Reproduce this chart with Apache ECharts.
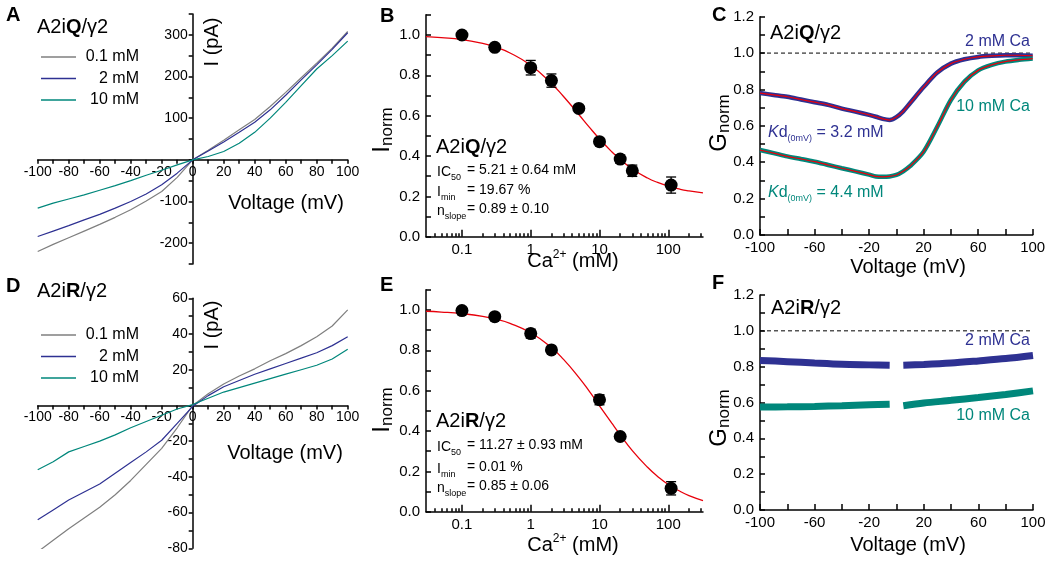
<!DOCTYPE html>
<html><head><meta charset="utf-8">
<script src="https://cdn.jsdelivr.net/npm/echarts@6/dist/echarts.min.js"></script>
<style>html,body{margin:0;padding:0;background:#fff}#c{width:1050px;height:563px}</style>
</head><body><div id="c"></div>
<script>
// ---------- data ----------
const legendNames = ['0.1 mM', '2 mM', '10 mM'];
const voltIV = [-100,-90,-80,-70,-60,-50,-40,-30,-20,-10,0,10,20,30,40,50,60,70,80,90,100];
// Panel A (A2iQ/γ2) current traces, pA
const iqGray = [-220,-203,-187,-171,-155,-138,-120,-99,-76,-42,0,23,47,72,97,128,162,197,232,268,308];
const iqBlue = [-184,-171,-158,-144,-131,-116,-100,-82,-60,-32,0,21,43,66,90,120,155,192,228,265,305];
const iqTeal = [-116,-104,-94,-84,-73,-62,-50,-37,-25,-12,0,8,20,40,66,100,138,178,218,250,285];
// Panel D (A2iR/γ2) current traces, pA
const irGray = [-82,-75.5,-69,-63,-57,-50,-42,-33,-24,-12.5,0,6.5,12,16.5,20.5,25,29,33.5,38.5,44.5,53.5];
const irBlue = [-64,-58.5,-53,-48.5,-44,-38,-32,-26,-19.5,-10,-0.5,5.5,10.5,14,17.5,20.5,23.5,26.5,29.5,33.5,38.5];
const irTeal = [-36,-31.5,-26,-23,-20,-16.5,-12.5,-9,-5.5,-2,0.5,4,7.5,10,12.5,15,17.5,20,22.5,26,31.5];
// Panel B / E dose-response points
const concQ = [0.1,0.3,1,2,5,10,20,30,110];
const inormQ = [1.0,0.939,0.838,0.774,0.636,0.471,0.385,0.327,0.256];
const errQ = [0.01,0.01,0.036,0.033,0.012,0.012,0.02,0.028,0.04];
const concR = [0.1,0.3,1,2,10,20,110];
const inormR = [0.997,0.967,0.883,0.802,0.555,0.373,0.116];
const errR = [0.008,0.008,0.022,0.01,0.025,0.01,0.033];
// fitted curves
const concFit = [0.03,0.05,0.1,0.2,0.3,0.5,1,2,3,5,7,10,15,20,30,50,70,100,150,200,320];
const fitQ = [0.992,0.987,0.977,0.958,0.941,0.911,0.850,0.760,0.695,0.606,0.546,0.485,0.422,0.383,0.336,0.291,0.269,0.251,0.235,0.227,0.217];
const fitR = [0.994,0.990,0.982,0.969,0.956,0.934,0.887,0.813,0.755,0.666,0.600,0.525,0.440,0.381,0.303,0.220,0.175,0.135,0.100,0.080,0.055];
const logLabels = [0.1,1,10,100];
const logMinor = [0.04,0.05,0.06,0.07,0.08,0.09,0.2,0.3,0.4,0.5,0.6,0.7,0.8,0.9,2,3,4,5,6,7,8,9,20,30,40,50,60,70,80,90,200,300];
// Panel C conductance
const voltC = [-100,-90,-80,-70,-60,-50,-40,-30,-20,-15,-10,-5,0,5,10,20,30,40,50,60,70,80,90,100];
const gC2 = [0.78,0.77,0.76,0.745,0.73,0.715,0.695,0.678,0.66,0.65,0.638,0.632,0.648,0.68,0.724,0.813,0.893,0.942,0.966,0.979,0.985,0.988,0.988,0.985];
const gC10 = [0.467,0.45,0.432,0.418,0.403,0.385,0.367,0.35,0.332,0.322,0.32,0.322,0.33,0.35,0.378,0.458,0.595,0.742,0.843,0.905,0.935,0.953,0.963,0.97];
// Panel F conductance (gap near 0 mV)
const voltF = [-100,-80,-60,-40,-20,-5,0,5,20,40,60,80,100];
const gF2 = [0.835,0.828,0.82,0.813,0.81,0.808,null,0.808,0.812,0.82,0.832,0.845,0.862];
const gF10 = [0.575,0.576,0.578,0.582,0.587,0.59,null,0.582,0.597,0.612,0.628,0.645,0.665];
const refLine = [[-100,1],[100,1]];

// ---------- styles ----------
const FF = '"Liberation Sans", Arial, Helvetica, sans-serif';
const GRAY = '#7f7f7f', BLUE = '#2e3192', TEAL = '#00877b', RED = '#e8000b';
const AX = {color:'#000', width:1.5};
const pair = (xs, ys) => xs.map((x,i) => [x, ys[i] === null ? '-' : ys[i]]);

const G = [
  {left:37.7, top:14, width:310, height:250},
  {left:426, top:14.85, width:277, height:221.85},
  {left:760, top:16.7, width:272.7, height:218.3},
  {left:37.7, top:298.3, width:310, height:250},
  {left:426, top:289.85, width:277, height:221.85},
  {left:760, top:295, width:273, height:215}
];

// I-V axes cross at zero: shift them from the grid edge to the zero of the other axis
function ivX(grid, ymin, ymax){
  const off = -(0 - ymin) / (ymax - ymin) * G[grid].height;
  return {gridIndex:grid, type:'value', min:-100, max:100, interval:10, position:'bottom', offset:off,
    axisLine:{onZero:false, lineStyle:AX}, axisTick:{length:4, lineStyle:AX},
    axisLabel:{fontFamily:FF, fontSize:14, color:'#000', margin:5, formatter:v => (v % 20 === 0 ? String(v) : '')},
    splitLine:{show:false}};
}
function ivY(grid, min, max, step, lab){
  const off = -(0 - (-100)) / 200 * G[grid].width;
  return {gridIndex:grid, type:'value', min, max, interval:step, position:'left', offset:off,
    axisLine:{onZero:false, lineStyle:AX}, axisTick:{length:4, lineStyle:AX},
    axisLabel:{fontFamily:FF, fontSize:14, color:'#000', margin:5, formatter:v => (v % lab === 0 && v !== 0 ? String(v) : '')},
    splitLine:{show:false}};
}
function logX(grid){
  return {gridIndex:grid, type:'log', logBase:10, min:0.03, max:320, position:'bottom',
    axisLine:{onZero:false, lineStyle:AX},
    axisTick:{inside:true, length:7, lineStyle:AX, customValues:logLabels},
    axisLabel:{fontFamily:FF, fontSize:15, color:'#000', margin:6, customValues:logLabels, formatter:v => String(v)},
    splitLine:{show:false}, minorSplitLine:{show:false}};
}
function logMinorX(grid){
  return {gridIndex:grid, type:'log', logBase:10, min:0.03, max:320, position:'bottom',
    axisLine:{show:false, onZero:false}, axisLabel:{show:false},
    axisTick:{inside:true, length:3.5, lineStyle:AX, customValues:logMinor},
    splitLine:{show:false}};
}
function normY(grid, max){
  return {gridIndex:grid, type:'value', min:0, max, interval:0.1,
    axisLine:{onZero:false, lineStyle:AX}, axisTick:{inside:true, length:5, lineStyle:AX},
    axisLabel:{fontFamily:FF, fontSize:15, color:'#000', margin:6,
      formatter:v => { const k = Math.round(v*10); return (k % 2 === 0 && k <= 12) ? (k/10).toFixed(1) : ''; }},
    splitLine:{show:false}};
}
function gX(grid){
  return {gridIndex:grid, type:'value', min:-100, max:100, interval:20,
    axisLine:{onZero:false, lineStyle:AX}, axisTick:{inside:true, length:6, lineStyle:AX},
    axisLabel:{fontFamily:FF, fontSize:15, color:'#000', margin:5, formatter:v => ((v + 100) % 40 === 0 ? String(v) : '')},
    splitLine:{show:false}};
}
function line(name, xi, yi, data, color, w, extra){
  return Object.assign({name, type:'line', xAxisIndex:xi, yAxisIndex:yi, data, symbol:'none',
    lineStyle:{color, width:w}, itemStyle:{color}, connectNulls:false, silent:true}, extra||{});
}
function errRender(params, api){
  const x = api.value(0), y = api.value(1), e = api.value(2);
  const p1 = api.coord([x, y + e]), p2 = api.coord([x, y - e]);
  const w = 5, st = {stroke:'#000', lineWidth:1.3};
  return {type:'group', children:[
    {type:'line', shape:{x1:p1[0], y1:p1[1], x2:p2[0], y2:p2[1]}, style:st},
    {type:'line', shape:{x1:p1[0]-w, y1:p1[1], x2:p1[0]+w, y2:p1[1]}, style:st},
    {type:'line', shape:{x1:p2[0]-w, y1:p2[1], x2:p2[0]+w, y2:p2[1]}, style:st}]};
}
function doseSeries(xi, yi, conc, vals, errs, fit){
  return [
    line('fit', xi, yi, pair(concFit, fit), RED, 1.3, {smooth:true, z:2}),
    {type:'custom', xAxisIndex:xi, yAxisIndex:yi, renderItem:errRender, encode:{x:0, y:1}, z:3,
      data: conc.map((c,i) => [c, vals[i], errs[i]]), silent:true},
    {type:'scatter', xAxisIndex:xi, yAxisIndex:yi, symbol:'circle', symbolSize:13, z:4,
      itemStyle:{color:'#000', opacity:1}, data: pair(conc, vals), silent:true}
  ];
}

// ---------- texts ----------
const R = (size, extra) => Object.assign({fontFamily:FF, fontSize:size, fill:'#000'}, extra || {});
function T(x, y, text, o){
  o = o || {};
  const st = {text, fontFamily:FF, fontSize:o.size || 16, fontWeight:o.weight || 'normal',
    fill:o.color || '#000', align:o.align || 'left', verticalAlign:'middle'};
  if (o.rich) st.rich = o.rich;
  return {type:'text', x, y, rotation:o.rot || 0, z:100, silent:true, style:st};
}
const titleRich = {n:R(20), b:R(20, {fontWeight:'bold'})};
const subRich = {n:R(14, {lineHeight:20}), s:R(9, {lineHeight:10, padding:[10,0,0,0], verticalAlign:'bottom'})};
const normRich = {a:R(24, {lineHeight:28}), b:R(17, {lineHeight:18, padding:[10,0,0,0], verticalAlign:'bottom'})};
const caRich = {n:R(20, {lineHeight:24}), p:R(12, {lineHeight:12, padding:[0,0,8,0], verticalAlign:'top'})};
const kdRich = c => ({k:R(16, {fill:c, fontStyle:'italic', lineHeight:20}), n:R(16, {fill:c, lineHeight:20}),
  s:R(9, {fill:c, lineHeight:10, padding:[11,0,0,0], verticalAlign:'bottom'})});

const texts = [
  // panel letters
  T(6, 15, 'A', {size:20, weight:'bold'}), T(380, 16, 'B', {size:20, weight:'bold'}), T(712, 15, 'C', {size:20, weight:'bold'}),
  T(6, 286, 'D', {size:20, weight:'bold'}), T(380, 285, 'E', {size:20, weight:'bold'}), T(712, 283, 'F', {size:20, weight:'bold'}),
  // A
  T(37, 27, '{n|A2i}{b|Q}{n|/γ2}', {rich:titleRich}),
  T(212, 42, 'I (pA)', {size:20, align:'center', rot:Math.PI/2}),
  T(286, 203, 'Voltage (mV)', {size:20, align:'center'}),
  // D
  T(37, 291, '{n|A2i}{b|R}{n|/γ2}', {rich:titleRich}),
  T(212, 325, 'I (pA)', {size:20, align:'center', rot:Math.PI/2}),
  T(285, 453, 'Voltage (mV)', {size:20, align:'center'}),
  // B
  T(436, 147, '{n|A2i}{b|Q}{n|/γ2}', {rich:titleRich}),
  T(437, 172, '{n|IC}{s|50}', {rich:subRich}), T(467, 170, '= 5.21 ± 0.64 mM', {size:14}),
  T(437, 192, '{n|I}{s|min}', {rich:subRich}), T(467, 190, '= 19.67 %', {size:14}),
  T(437, 211, '{n|n}{s|slope}', {rich:subRich}), T(467, 209, '= 0.89 ± 0.10', {size:14}),
  T(382, 130, '{a|I}{b|norm}', {align:'center', rot:Math.PI/2, rich:normRich}),
  T(573, 261, '{n|Ca}{p|2+}{n| (mM)}', {align:'center', rich:caRich}),
  // E
  T(436, 421, '{n|A2i}{b|R}{n|/γ2}', {rich:titleRich}),
  T(437, 447, '{n|IC}{s|50}', {rich:subRich}), T(467, 445, '= 11.27 ± 0.93 mM', {size:14}),
  T(437, 469, '{n|I}{s|min}', {rich:subRich}), T(467, 467, '= 0.01 %', {size:14}),
  T(437, 488, '{n|n}{s|slope}', {rich:subRich}), T(467, 486, '= 0.85 ± 0.06', {size:14}),
  T(382, 410, '{a|I}{b|norm}', {align:'center', rot:Math.PI/2, rich:normRich}),
  T(573, 545, '{n|Ca}{p|2+}{n| (mM)}', {align:'center', rich:caRich}),
  // C
  T(770, 33, '{n|A2i}{b|Q}{n|/γ2}', {rich:titleRich}),
  T(1030, 42, '2 mM Ca', {size:16, color:BLUE, align:'right'}),
  T(1030, 107, '10 mM Ca', {size:16, color:TEAL, align:'right'}),
  T(768, 133, '{k|K}{n|d}{s|(0mV)}{n| = 3.2 mM}', {rich:kdRich(BLUE)}),
  T(768, 193, '{k|K}{n|d}{s|(0mV)}{n| = 4.4 mM}', {rich:kdRich(TEAL)}),
  T(719, 123, '{a|G}{b|norm}', {align:'center', rot:Math.PI/2, rich:normRich}),
  T(908, 267, 'Voltage (mV)', {size:20, align:'center'}),
  // F
  T(771, 308, '{n|A2i}{b|R}{n|/γ2}', {rich:titleRich}),
  T(1030, 341, '2 mM Ca', {size:16, color:BLUE, align:'right'}),
  T(1030, 416, '10 mM Ca', {size:16, color:TEAL, align:'right'}),
  T(719, 418, '{a|G}{b|norm}', {align:'center', rot:Math.PI/2, rich:normRich}),
  T(908, 545, 'Voltage (mV)', {size:20, align:'center'})
];

const legendBase = {data:legendNames, orient:'vertical', left:36, icon:'rect', itemWidth:35, itemHeight:1.6, itemGap:5.5,
  selectedMode:false, formatter:n => '{r|' + n + '}',
  textStyle:{fontFamily:FF, fontSize:16, color:'#000', rich:{r:{fontFamily:FF, fontSize:16, lineHeight:14, width:58, align:'right'}}}};

const option = {
  animation:false,
  backgroundColor:'#fff',
  textStyle:{fontFamily:FF},
  grid:G,
  xAxis:[ivX(0,-250,350), logX(1), logMinorX(1), gX(2), ivX(3,-80,60), logX(4), logMinorX(4), gX(5)],
  yAxis:[ivY(0,-250,350,50,100), normY(1,1.1), normY(2,1.2), ivY(3,-80,60,10,20), normY(4,1.1), normY(5,1.2)],
  legend:[Object.assign({}, legendBase, {top:44}), Object.assign({}, legendBase, {top:322})],
  graphic:texts,
  series:[
    // A
    line('0.1 mM', 0, 0, pair(voltIV, iqGray), GRAY, 1.2),
    line('2 mM', 0, 0, pair(voltIV, iqBlue), BLUE, 1.2),
    line('10 mM', 0, 0, pair(voltIV, iqTeal), TEAL, 1.2),
    // D
    line('0.1 mM', 4, 3, pair(voltIV, irGray), GRAY, 1.2),
    line('2 mM', 4, 3, pair(voltIV, irBlue), BLUE, 1.2),
    line('10 mM', 4, 3, pair(voltIV, irTeal), TEAL, 1.2),
    // B, E
    ...doseSeries(1, 1, concQ, inormQ, errQ, fitQ),
    ...doseSeries(5, 4, concR, inormR, errR, fitR),
    // C
    line('ref', 3, 2, refLine, '#000', 1, {lineStyle:{color:'#000', width:1, type:[4,3]}}),
    line('c2', 3, 2, pair(voltC, gC2), BLUE, 4.5, {smooth:0.3}),
    line('c2fit', 3, 2, pair(voltC, gC2), RED, 1.2, {smooth:0.3}),
    line('c10', 3, 2, pair(voltC, gC10), TEAL, 4.5, {smooth:0.3}),
    line('c10fit', 3, 2, pair(voltC, gC10), RED, 1.2, {smooth:0.3}),
    // F
    line('ref', 7, 5, refLine, '#000', 1, {lineStyle:{color:'#000', width:1, type:[4,3]}}),
    line('f2', 7, 5, pair(voltF, gF2), BLUE, 7, {smooth:0.3}),
    line('f10', 7, 5, pair(voltF, gF10), TEAL, 7, {smooth:0.3})
  ]
};
const chart = echarts.init(document.getElementById('c'), null, {renderer:'canvas'});
chart.setOption(option);
</script></body></html>
